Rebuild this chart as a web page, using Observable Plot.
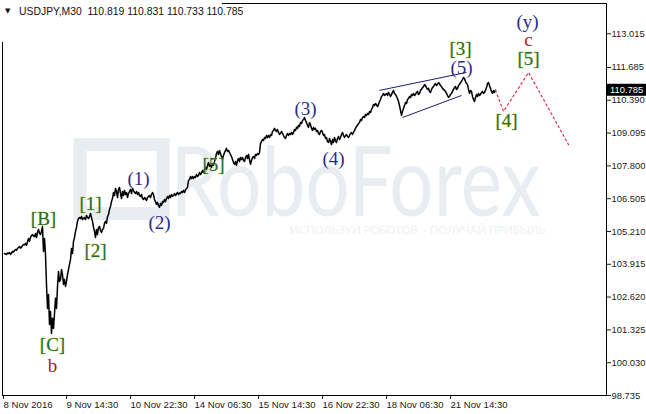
<!DOCTYPE html>
<html><head><meta charset="utf-8">
<script src="https://cdn.jsdelivr.net/npm/d3@7"></script>
<script src="https://cdn.jsdelivr.net/npm/@observablehq/plot@0.6"></script>
<style>
html,body{margin:0;padding:0;background:#fff;}
#chart{width:646px;height:414px;}
</style></head><body><div id="chart"></div>
<script>
// ---- data ----
const firstBar = 4; // one M30 bar per pixel column
const close = [
104.34,104.32,104.30,104.36,104.34,104.38,104.30,104.36,104.42,104.40,
104.46,104.50,104.47,104.54,104.58,104.62,104.55,104.58,104.66,104.70,
104.68,104.74,104.66,104.80,104.93,104.82,104.98,105.05,105.09,105.03,
105.01,105.13,104.97,105.18,105.29,105.13,105.09,105.21,105.41,104.42,
104.93,104.30,103.12,102.17,102.72,101.54,102.05,101.18,101.78,101.38,
101.97,102.57,102.17,103.04,103.63,103.24,103.32,103.71,103.51,103.12,
103.32,103.04,103.24,103.51,103.71,103.91,104.10,104.54,104.34,104.82,
104.97,105.21,105.37,105.61,105.72,105.76,105.72,105.80,105.68,105.74,
105.76,105.68,105.84,105.78,105.72,105.80,105.92,105.76,105.61,105.37,
105.21,104.97,105.29,105.09,105.37,105.41,105.25,105.17,105.29,105.33,
105.53,105.61,105.53,105.80,105.88,106.08,106.20,106.39,106.51,106.75,
106.63,106.91,106.79,106.55,106.87,106.95,106.71,106.51,106.79,106.63,
106.83,106.67,106.75,106.55,106.71,106.79,106.87,106.71,106.91,106.83,
106.75,106.71,106.79,106.67,106.75,106.63,106.59,106.67,106.51,106.47,
106.55,106.51,106.43,106.55,106.59,106.63,106.55,106.67,106.75,106.67,
106.47,106.39,106.28,106.36,106.24,106.16,106.32,106.24,106.39,106.36,
106.47,106.39,106.51,106.59,106.51,106.63,106.55,106.67,106.59,106.63,
106.71,106.63,106.69,106.75,106.67,106.73,106.71,106.79,106.75,106.83,
106.75,106.85,106.91,106.95,107.22,107.26,107.38,107.30,107.38,107.30,
107.38,107.34,107.46,107.38,107.42,107.54,107.46,107.52,107.62,107.54,
107.66,107.74,107.66,107.82,107.93,107.78,107.86,107.74,107.89,107.82,
107.97,108.09,108.29,108.37,108.25,108.41,108.29,108.17,108.05,108.21,
108.33,108.41,108.49,108.37,108.41,108.33,108.25,108.17,108.05,107.93,
107.86,107.97,107.82,108.01,108.09,107.97,108.13,108.05,108.13,108.01,
107.97,108.13,108.21,108.09,108.25,108.05,107.86,108.01,108.13,108.17,
108.09,108.25,108.21,108.29,108.25,108.33,108.68,108.76,108.84,108.80,
108.92,108.88,109.00,108.92,109.00,108.92,109.04,109.00,109.16,109.20,
109.28,109.20,109.16,109.24,109.12,109.04,109.08,109.16,109.08,109.00,
108.92,108.88,109.00,109.08,109.00,109.08,109.04,109.12,109.04,109.12,
109.24,109.20,109.32,109.28,109.40,109.36,109.51,109.47,109.59,109.63,
109.71,109.59,109.51,109.40,109.32,109.51,109.43,109.28,109.20,109.32,
109.24,109.28,109.16,109.20,109.08,109.04,109.16,109.20,109.12,109.00,
109.04,108.88,108.92,108.76,108.72,108.88,108.76,108.64,108.84,108.72,
108.92,108.80,108.72,108.88,108.96,108.84,108.92,109.04,109.12,109.00,
108.92,109.00,109.04,108.96,108.92,109.00,109.08,109.12,109.04,109.12,
109.20,109.28,109.36,109.40,109.47,109.51,109.63,109.59,109.71,109.75,
109.71,109.83,109.79,109.87,109.83,109.95,109.91,110.03,110.10,110.22,
110.18,110.26,110.22,110.14,110.22,110.34,110.42,110.54,110.58,110.66,
110.58,110.62,110.66,110.58,110.70,110.62,110.54,110.62,110.70,110.78,
110.66,110.62,110.54,110.46,110.34,110.18,109.99,109.79,109.95,110.07,
110.18,110.30,110.26,110.42,110.46,110.54,110.50,110.62,110.58,110.66,
110.58,110.62,110.70,110.74,110.62,110.66,110.78,110.82,110.89,110.93,
111.01,110.97,110.89,110.82,110.86,110.74,110.70,110.82,110.89,110.93,
111.01,111.05,110.97,111.01,111.09,111.05,110.97,110.93,110.86,110.82,
110.78,110.74,110.66,110.58,110.50,110.54,110.62,110.66,110.74,110.82,
110.89,110.93,110.82,110.86,110.97,111.01,111.09,111.13,111.21,111.29,
111.25,111.13,111.05,111.01,110.82,110.66,110.78,110.74,110.54,110.42,
110.34,110.50,110.62,110.54,110.66,110.58,110.62,110.70,110.74,110.66,
110.70,110.78,110.89,111.05,111.09,110.97,110.86,110.74,110.66,110.78,
110.70,110.785
];
const ohlc = [110.819, 110.831, 110.733, 110.785];
const symbol = "USDJPY,M30";

const yTicks = [98.735,100.030,101.325,102.620,103.915,105.210,106.505,107.800,109.095,110.390,111.685,113.015];
const xTickBars = [3,66,130,194,258,322,386,450];
const xTickLabels = ["8 Nov 2016","9 Nov 14:30","10 Nov 22:30","14 Nov 06:30","15 Nov 14:30","16 Nov 22:30","18 Nov 06:30","21 Nov 14:30"];

// Elliott wave labels
const waveText  = ["[B]","[1]","[2]","[C]","b","(1)","(2)","[5]","(3)","(4)","(5)","[3]","[4]","[5]","c","(y)"];
const waveBar   = [43,90,95,52,52,138,159,213,305,333,461,460,506,528,528,527];
const wavePrice = [105.72,106.28,104.46,100.75,99.92,107.30,105.53,107.82,110.03,108.09,111.68,112.43,109.59,112.04,112.79,113.50];
const waveKind  = ["g","g","g","g","r","n","n","g","n","n","n","g","g","g","r","n"];

// wedge (ending diagonal) lines
const wedgeBar1 = [379,402], wedgePrice1 = [110.78,109.71];
const wedgeBar2 = [466,461], wedgePrice2 = [111.49,110.58];

// forecast path
const projBar   = [495,503,528,568];
const projPrice = [110.785,109.95,111.49,108.64];

// watermark
const wmText  = ["RoboForex","ИСПОЛЬЗУЙ РОБОТОВ – ПОЛУЧАЙ ПРИБЫЛЬ"];
const wmBar   = [355,417];
const wmPrice = [107.03,105.25];
const logoBar = [80,163], logoPrice = [105.90,108.62];

// ---- build ----
const series = close.map((c,i)=>({bar:firstBar+i, close:c}));
const waves = waveText.map((t,i)=>({t, bar:waveBar[i], price:wavePrice[i], k:waveKind[i]}));
const wedge = wedgeBar1.map((b,i)=>({x1:b, y1:wedgePrice1[i], x2:wedgeBar2[i], y2:wedgePrice2[i]}));
const proj = projBar.map((b,i)=>({bar:b, price:projPrice[i]}));
const wm = wmText.map((t,i)=>({t, bar:wmBar[i], price:wmPrice[i]}));
const labelMap = new Map(xTickBars.map((b,i)=>[b, xTickLabels[i]]));
const lastClose = close[close.length-1];
const WM = "#e9edf2";
const serif = "'Liberation Serif','Times New Roman',serif";
const sans = "'Liberation Sans', Arial, sans-serif";

const plot = Plot.plot({
  width: 646, height: 414,
  marginLeft: 2, marginRight: 40, marginTop: 3, marginBottom: 19,
  x: {domain: [2, 606]},
  y: {domain: [98.735, 98.735 + 392/25.33]},
  style: {fontFamily: sans, fontSize: "10px", background: "#fff", color: "#1a1a1a"},
  marks: [
    Plot.rect([0], {x1: logoBar[0], x2: logoBar[1], y1: logoPrice[0], y2: logoPrice[1], fill: "none", stroke: WM, strokeWidth: 13}),
    Plot.text(wm.slice(0,1), {x: "bar", y: "price", text: "t", fill: WM, fontSize: 96, fontFamily: "Lato, 'Open Sans', sans-serif"}),
    Plot.text(wm.slice(1), {x: "bar", y: "price", text: "t", fill: "#eef1f4", fontSize: 11, fontFamily: "Lato, 'Open Sans', sans-serif"}),
    Plot.line(series, {x: "bar", y: "close", stroke: "#000", strokeWidth: 1.5}),
    Plot.link(wedge, {x1: "x1", y1: "y1", x2: "x2", y2: "y2", stroke: "#1c1c70", strokeWidth: 1}),
    Plot.line(proj, {x: "bar", y: "price", stroke: "#e8294f", strokeWidth: 1.2, strokeDasharray: "2,3"}),
    Plot.text(waves.filter(d=>d.k==="g"), {x: "bar", y: "price", text: "t", fill: "#17703a", stroke: "#d8c400", strokeWidth: 0.5, paintOrder: "stroke", fontSize: 19, fontFamily: serif}),
    Plot.text(waves.filter(d=>d.k==="n"), {x: "bar", y: "price", text: "t", fill: "#2c2c8a", fontSize: 19, fontFamily: serif}),
    Plot.text(waves.filter(d=>d.k==="r"), {x: "bar", y: "price", text: "t", fill: "#a81c1c", fontSize: 19, fontFamily: serif}),
    Plot.axisY({anchor: "right", ticks: yTicks, tickFormat: d => d.toFixed(3), tickSize: 4, tickPadding: 1, fontSize: 9.4, label: null}),
    Plot.axisX({ticks: xTickBars, tickFormat: d => labelMap.get(d), tickSize: 4, tickPadding: 2, fontSize: 9.6, textAnchor: "start", label: null}),
    Plot.frame({stroke: "#000"})
  ]
});

const sel = d3.select(plot);
sel.selectAll("text").each(function(){
  const t = this.textContent;
  if (t === wmText[0]) { this.setAttribute("textLength", 370); this.setAttribute("lengthAdjust", "spacingAndGlyphs"); }
  if (t === wmText[1]) { this.setAttribute("textLength", 255); this.setAttribute("lengthAdjust", "spacingAndGlyphs"); }
});
// current price box
const yS = plot.scale("y");
const py = yS.apply(lastClose);
sel.append("rect").attr("x", 607).attr("y", py - 6).attr("width", 39).attr("height", 12).attr("fill", "#000");
sel.append("text").attr("x", 610).attr("y", py).attr("dy", "0.35em").attr("fill", "#fff").attr("text-anchor", "start")
  .attr("font-size", 9.4).attr("font-family", sans).text(lastClose.toFixed(3));
// header
sel.append("rect").attr("x", 0).attr("y", 0).attr("width", 222).attr("height", 42).attr("fill", "#fff");
sel.append("text").attr("x", 5).attr("y", 11).attr("dy", "0.35em").attr("font-size", 7).attr("fill", "#111").attr("text-anchor", "start")
  .attr("font-family", "'DejaVu Sans', sans-serif").text("▼");
sel.append("text").attr("x", 19).attr("y", 11).attr("dy", "0.35em").attr("font-size", 10.4).attr("fill", "#111").attr("text-anchor", "start")
  .attr("font-family", sans)
  .text(symbol + "\u00a0\u00a0" + ohlc.map(v=>v.toFixed(3)).join(" "));

document.getElementById("chart").appendChild(plot);
</script></body></html>
